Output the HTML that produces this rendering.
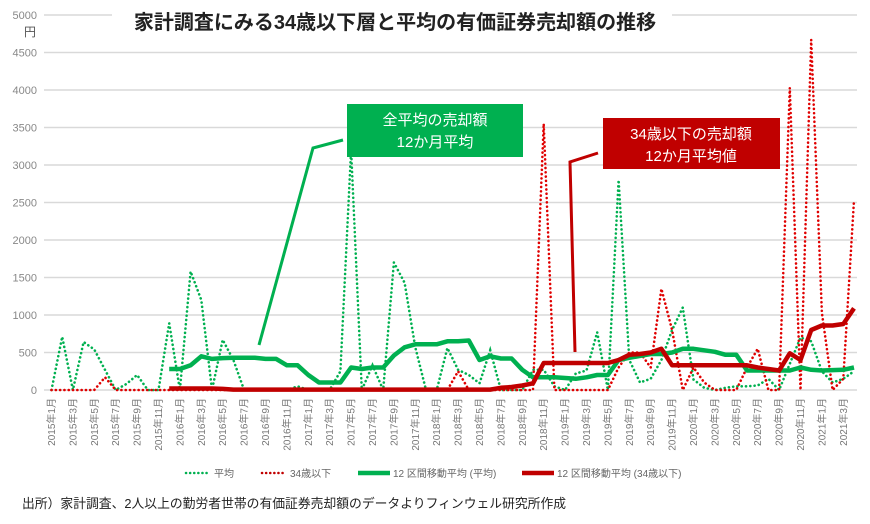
<!DOCTYPE html>
<html><head><meta charset="utf-8"><style>
body{margin:0;background:#fff;width:870px;height:519px;overflow:hidden;font-family:"Liberation Sans","Noto Sans CJK JP",sans-serif}
</style></head><body>
<svg id="s" width="870" height="519" xmlns="http://www.w3.org/2000/svg" font-family="Liberation Sans, Noto Sans CJK JP, sans-serif">
<g id="grid"></g>
<rect x="112" y="5" width="560" height="32" fill="#fff"/>
<text x="395" y="29" text-anchor="middle" font-size="20" font-weight="bold" fill="#222">家計調査にみる34歳以下層と平均の有価証券売却額の推移</text>
<text x="30" y="36" text-anchor="middle" font-size="12" fill="#555">円</text>
<g id="xl"></g>
<g id="ser"></g>
<rect x="347" y="104" width="176" height="53" fill="#00b050"/>
<text x="435" y="125" text-anchor="middle" font-size="15" fill="#fff">全平均の売却額</text>
<text x="435" y="147" text-anchor="middle" font-size="15" fill="#fff">12か月平均</text>
<polyline points="259,345 313,148 343,140" fill="none" stroke="#00b050" stroke-width="3"/>
<rect x="603" y="118" width="177" height="51" fill="#c00000"/>
<text x="691" y="139" text-anchor="middle" font-size="15" fill="#fff">34歳以下の売却額</text>
<text x="691" y="161" text-anchor="middle" font-size="15" fill="#fff">12か月平均値</text>
<polyline points="575,352 570,162 598,153" fill="none" stroke="#c00000" stroke-width="3"/>
<g font-size="10" fill="#666">
<line x1="186" y1="473" x2="210" y2="473" stroke="#00b050" stroke-width="2.5" stroke-dasharray="0.1 4" stroke-linecap="round"/>
<text x="214" y="477">平均</text>
<line x1="262" y1="473" x2="286" y2="473" stroke="#c00000" stroke-width="2.5" stroke-dasharray="0.1 4" stroke-linecap="round"/>
<text x="290" y="477">34歳以下</text>
<line x1="358" y1="473" x2="390" y2="473" stroke="#00b050" stroke-width="4.5"/>
<text x="393" y="477">12 区間移動平均 (平均)</text>
<line x1="522" y1="473" x2="554" y2="473" stroke="#c00000" stroke-width="4.5"/>
<text x="557" y="477">12 区間移動平均 (34歳以下)</text>
</g>
<text x="22" y="508" font-size="12.8" fill="#222">出所）家計調査、2人以上の勤労者世帯の有価証券売却額のデータよりフィンウェル研究所作成</text>
</svg>
<script>
var NS="http://www.w3.org/2000/svg";
function el(t,a,p,txt){var e=document.createElementNS(NS,t);for(var k in a)e.setAttribute(k,a[k]);if(txt)e.textContent=txt;p.appendChild(e);return e;}
var g=document.getElementById('grid');
for(var v=0;v<=5000;v+=500){var y=390-v*0.075;
el('line',{x1:44,x2:857,y1:y,y2:y,stroke:'#d9d9d9','stroke-width':1.5},g);
el('text',{x:37,y:y+4,'text-anchor':'end','font-size':11,fill:'#888'},g,String(v));}
function X(i){return 51.5+10.7*i;}
var xl=document.getElementById('xl');
for(var i=0;i<76;i+=2){var yr=2015+Math.floor(i/12),m=i%12+1;
el('text',{transform:'translate('+(X(i)+3.5)+',398) rotate(-90)','text-anchor':'end','font-size':10,fill:'#777'},xl,yr+'年'+m+'月');}
var avg=[0,710,0,640,540,270,0,80,200,0,0,890,0,1580,1200,0,670,400,0,0,0,0,0,50,0,0,0,250,3200,0,330,0,1700,1430,570,0,0,560,270,200,90,530,0,0,0,270,270,50,0,220,260,770,0,2800,400,100,150,400,800,1100,140,30,0,30,50,50,60,150,0,350,700,650,250,100,150,250];
var yg=[];for(i=0;i<76;i++)yg.push(0);
var sp={5:170,38:250,46:3550,53:300,54:500,55:500,56:300,57:1350,58:800,60:300,61:100,65:300,66:550,69:4030,71:4670,72:1030,74:150,75:2530};
for(var k in sp)yg[k]=sp[k];
var ma=[null,null,null,null,null,null,null,null,null,null,null,280,280,330,450,415,425,430,430,430,415,415,330,330,200,100,100,100,300,280,300,300,460,570,610,610,610,650,650,660,400,450,420,420,270,170,170,170,160,150,170,200,200,400,430,455,480,480,500,550,550,530,510,470,470,260,260,260,260,260,300,270,260,265,270,300];
var my=[null,null,null,null,null,null,null,null,null,null,null,20,20,20,20,20,15];
for(i=17;i<42;i++)my.push(6);
my=my.concat([30,40,60,90,360,360,360,360,360,360,360,400,470,480,500,550,330,330,330,330,330,330,330,330,300,280,260,490,400,800,860,860,880,1090]);
function pts(a){var s=[];for(var i=0;i<a.length;i++)if(a[i]!=null)s.push(X(i).toFixed(1)+','+(390-a[i]*0.075).toFixed(1));return s.join(' ');}
var sg=document.getElementById('ser');
el('polyline',{points:pts(avg),fill:'none',stroke:'#00b050','stroke-width':2.6,'stroke-dasharray':'0.1 4.2','stroke-linecap':'round'},sg);
el('polyline',{points:pts(yg),fill:'none',stroke:'#e00000','stroke-width':2.6,'stroke-dasharray':'0.1 4.2','stroke-linecap':'round'},sg);
el('polyline',{points:pts(ma),fill:'none',stroke:'#00b050','stroke-width':4.5,'stroke-linejoin':'round'},sg);
el('polyline',{points:pts(my),fill:'none',stroke:'#c00000','stroke-width':4.5,'stroke-linejoin':'round'},sg);
</script>
</body></html>
